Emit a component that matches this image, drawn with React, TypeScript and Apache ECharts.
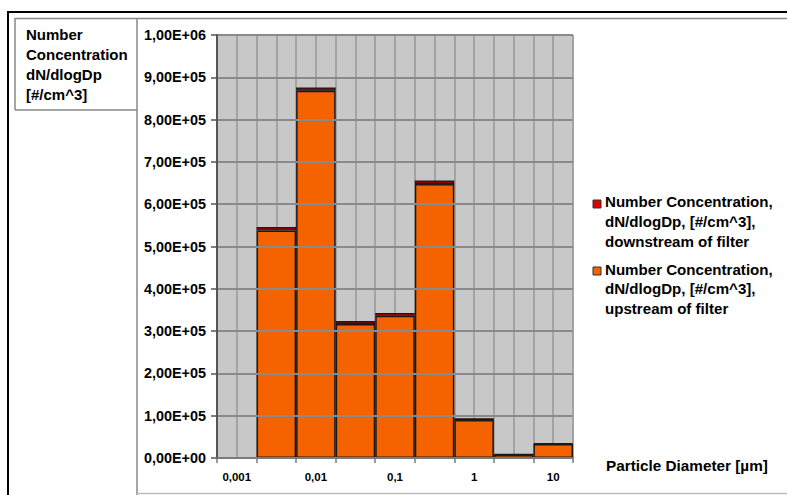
import React, { useEffect, useRef } from "react";
import * as echarts from "echarts";

const categories = ["0,001", "", "0,01", "", "0,1", "", "1", "", "10"];
const upstream = [0, 538000, 868000, 317000, 336000, 648000, 90000, 8000, 33000];
const downstream = [0, 8000, 8000, 7000, 7000, 8000, 4000, 1500, 1500];
const yTickLabels = [
  "0,00E+00", "1,00E+05", "2,00E+05", "3,00E+05", "4,00E+05", "5,00E+05",
  "6,00E+05", "7,00E+05", "8,00E+05", "9,00E+05", "1,00E+06",
];
const titleText = "Number\nConcentration\ndN/dlogDp\n[#/cm^3]";
const legendDown = "Number Concentration,\ndN/dlogDp, [#/cm^3],\ndownstream of filter";
const legendUp = "Number Concentration,\ndN/dlogDp, [#/cm^3],\nupstream of filter";
const xTitle = "Particle Diameter [µm]";

const FONT = "'Liberation Sans', Arial, sans-serif";
const ORANGE = "#F56200";
const RED = "#A80000";

export default function App() {
  const ref = useRef<HTMLDivElement>(null);
  useEffect(() => {
    if (!ref.current) return;
    const chart = echarts.init(ref.current, undefined, { renderer: "svg" });
    const toData = (arr: number[]) => arr.map((v) => (v === 0 ? "-" : v));
    chart.setOption({
      animation: false,
      backgroundColor: "#ffffff",
      grid: {
        left: 217,
        top: 35,
        width: 356,
        height: 423,
        show: true,
        backgroundColor: "#C8C8C8",
        borderWidth: 0,
      },
      xAxis: [
        {
          type: "category",
          data: categories,
          boundaryGap: true,
          axisLine: { show: true, lineStyle: { color: "#7a7a7a", width: 2 } },
          axisTick: { show: true, interval: 0, length: 5, lineStyle: { color: "#7a7a7a", width: 1.5 } },
          axisLabel: {
            interval: 0,
            margin: 13,
            color: "#000",
            fontFamily: FONT,
            fontWeight: "bold",
            fontSize: 11.5,
          },
          splitLine: { show: false },
          z: 3,
        },
        {
          type: "value",
          min: 0,
          max: 18,
          interval: 1,
          position: "bottom",
          axisLine: { show: false },
          axisTick: { show: false },
          axisLabel: { show: false },
          splitLine: { show: true, lineStyle: { color: "#a3a3a3", width: 2 } },
        },
      ],
      yAxis: {
        type: "value",
        min: 0,
        max: 1000000,
        interval: 100000,
        axisLine: { show: true, lineStyle: { color: "#555", width: 2 } },
        axisTick: { show: true, length: 6, lineStyle: { color: "#555", width: 1.5 } },
        axisLabel: {
          margin: 11,
          color: "#000",
          fontFamily: FONT,
          fontWeight: "bold",
          fontSize: 14.4,
          formatter: (v: number) => yTickLabels[Math.round(v / 100000)],
        },
        splitLine: { show: true, lineStyle: { color: "#8a8a8a", width: 2 } },
        z: 3,
      },
      series: [
        {
          name: "upstream",
          type: "bar",
          stack: "total",
          xAxisIndex: 0,
          barCategoryGap: "0%",
          data: toData(upstream),
          itemStyle: { color: ORANGE, borderColor: "#1a1a1a", borderWidth: 1.5 },
        },
        {
          name: "downstream",
          type: "bar",
          stack: "total",
          xAxisIndex: 0,
          barCategoryGap: "0%",
          data: toData(downstream),
          itemStyle: { color: RED, borderColor: "#1a1a1a", borderWidth: 1.2 },
        },
      ],
      graphic: [
        { type: "line", shape: { x1: 8, y1: 12, x2: 787, y2: 12 }, style: { stroke: "#000", lineWidth: 2 } },
        { type: "line", shape: { x1: 8, y1: 11, x2: 8, y2: 495 }, style: { stroke: "#000", lineWidth: 2 } },
        { type: "line", shape: { x1: 15, y1: 18.5, x2: 787, y2: 18.5 }, style: { stroke: "#888", lineWidth: 1.5 } },
        { type: "line", shape: { x1: 15, y1: 18, x2: 15, y2: 110 }, style: { stroke: "#888", lineWidth: 1.5 } },
        { type: "line", shape: { x1: 15, y1: 110, x2: 137, y2: 110 }, style: { stroke: "#888", lineWidth: 1.5 } },
        { type: "line", shape: { x1: 137, y1: 18, x2: 137, y2: 495 }, style: { stroke: "#888", lineWidth: 1.5 } },
        { type: "line", shape: { x1: 137, y1: 493.5, x2: 787, y2: 493.5 }, style: { stroke: "#bbb", lineWidth: 1.5 } },
        {
          type: "text",
          x: 26,
          y: 24.5,
          style: {
            text: titleText,
            fontFamily: FONT,
            fontWeight: "bold",
            fontSize: 15,
            lineHeight: 20,
            fill: "#000",
            verticalAlign: "top",
          },
        },
        { type: "rect", shape: { x: 593, y: 200, width: 8, height: 8 }, style: { fill: "#E00000", stroke: "#333", lineWidth: 1 } },
        {
          type: "text",
          x: 605,
          y: 191.5,
          style: {
            text: legendDown,
            fontFamily: FONT,
            fontWeight: "bold",
            fontSize: 15.1,
            lineHeight: 20,
            fill: "#000",
            verticalAlign: "top",
          },
        },
        { type: "rect", shape: { x: 593, y: 267, width: 8, height: 8 }, style: { fill: ORANGE, stroke: "#333", lineWidth: 1 } },
        {
          type: "text",
          x: 605,
          y: 259.5,
          style: {
            text: legendUp,
            fontFamily: FONT,
            fontWeight: "bold",
            fontSize: 15.1,
            lineHeight: 19.5,
            fill: "#000",
            verticalAlign: "top",
          },
        },
        {
          type: "text",
          x: 606,
          y: 458,
          style: {
            text: xTitle,
            fontFamily: FONT,
            fontWeight: "bold",
            fontSize: 15.3,
            fill: "#000",
            verticalAlign: "top",
          },
        },
      ],
    });
    return () => chart.dispose();
  }, []);
  return (
    <div
      ref={ref}
      style={{ position: "absolute", left: 0, top: 0, width: 787, height: 495 }}
    />
  );
}
